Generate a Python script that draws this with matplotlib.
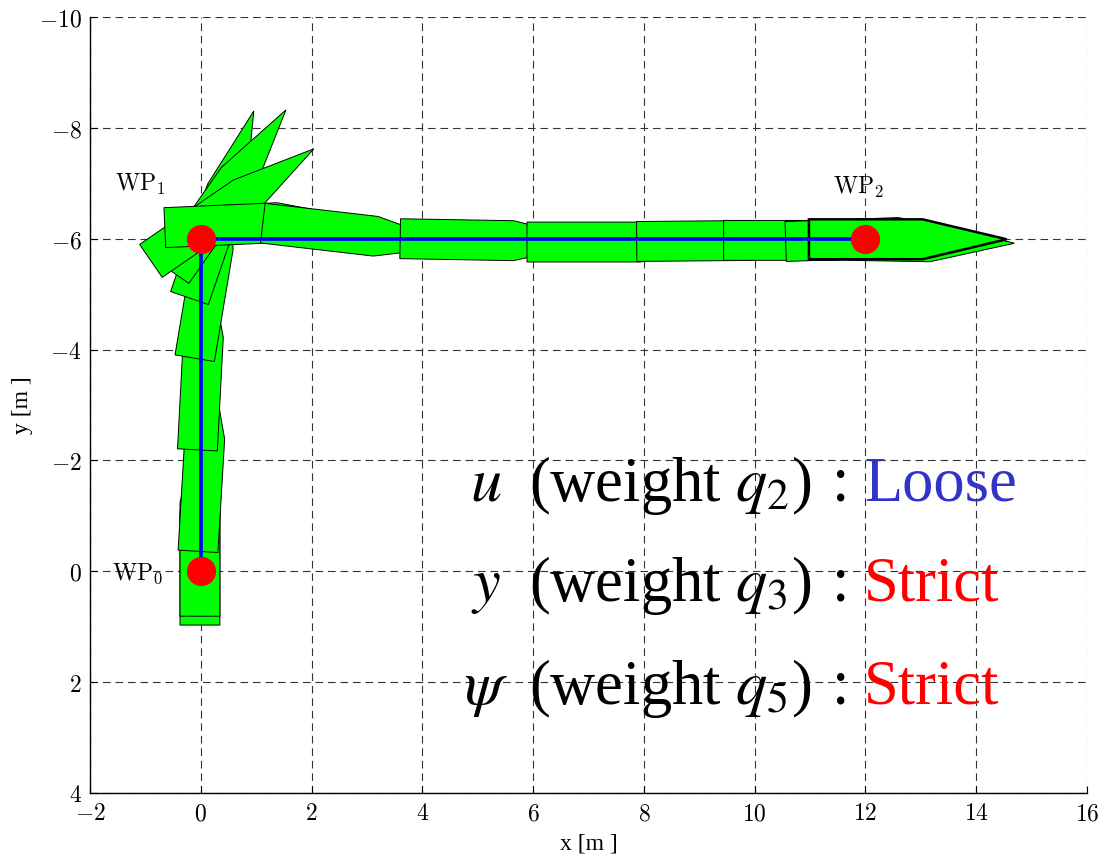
import numpy as np
import matplotlib
matplotlib.use("Agg")
import matplotlib.pyplot as plt
from matplotlib.patches import Polygon

plt.rcParams["mathtext.fontset"] = "cm"
plt.rcParams["lines.scale_dashes"] = False

# Waypoints of the reference path
wp_x = [0.0, 0.0, 12.0]
wp_y = [0.0, -6.0, -6.0]
wp_names = [r"$\mathrm{WP}_0$", r"$\mathrm{WP}_1$", r"$\mathrm{WP}_2$"]
wp_label_x = [-1.6, -1.55, 11.42]
wp_label_y = [0.15, -6.87, -6.8]

# Ship snapshots: hull centre [m] and heading [deg]
ship_x = [-0.015, -0.015, 0.056, 0.033, 0.185, 0.377, 0.514, 0.571, 1.134,
          2.893, 5.385, 7.675, 9.655, 11.225, 12.344, 12.905, 12.765]
ship_y = [-0.815, -0.975, -2.142, -3.973, -5.605, -6.618, -6.862, -6.611, -6.278,
          -6.075, -5.969, -5.94, -5.966, -5.97, -6.012, -5.949, -5.99]
ship_psi = [-90, -90, -86.6, -87, -80.5, -71, -55, -34.5, -2.5,
            6.6, 1.0, 0, -0.5, 0, -2, 1, 0]

# Hull outline in body frame (surge s, sway t)
hull_s = [-1.785, 0.265, 1.785, 0.265, -1.785]
hull_t = [-0.36, -0.36, 0.0, 0.36, 0.36]

# Weight settings
symbols = [r"$u$", r"$y$", r"$\psi$"]
weight_idx = ["2", "3", "5"]
levels = ["Loose", "Strict", "Strict"]
level_colors = ["#3333cc", "#ff0000", "#ff0000"]
text_y = [-1.27, 0.53, 2.39]

x_ticks = [-2, 0, 2, 4, 6, 8, 10, 12, 14, 16]
y_ticks = [-10, -8, -6, -4, -2, 0, 2, 4]

W, H = 1103, 861
fig = plt.figure(figsize=(W / 100, H / 100), dpi=100)
ax = fig.add_axes([90 / W, 1 - 793 / H, 997 / W, 776 / H])

ax.set_xlim(-2, 16)
ax.set_ylim(4, -10)

# Ship snapshots
n = len(ship_x)
for i, (cx, cy, psi) in enumerate(zip(ship_x, ship_y, ship_psi)):
    a = np.deg2rad(psi)
    s = np.array(hull_s)
    t = np.array(hull_t)
    px = cx + s * np.cos(a) - t * np.sin(a)
    py = cy + s * np.sin(a) + t * np.cos(a)
    last = i == n - 1
    ax.add_patch(Polygon(np.column_stack([px, py]), closed=True,
                         facecolor="#00ff00", edgecolor="black",
                         linewidth=1.8 if last else 0.7, zorder=3 + i * 0.01))

# Path and waypoints
ax.plot(wp_x, wp_y, color="blue", linewidth=2.6, zorder=4)
ax.plot(wp_x, wp_y, linestyle="none", marker="o", markersize=20,
        markerfacecolor="red", markeredgecolor="red", zorder=5)

for lx, ly, name in zip(wp_label_x, wp_label_y, wp_names):
    ax.text(lx, ly, name, fontsize=17, ha="left", va="baseline", zorder=6)

# Weight annotation
for sym, q, lvl, col, ty in zip(symbols, weight_idx, levels, level_colors, text_y):
    ax.text(5.15, ty, sym, fontsize=45, ha="center", va="baseline",
            math_fontfamily="stix", zorder=6)
    ax.text(5.92, ty, r"(weight $q_{\mathit{%s}}$)" % q, fontsize=45, ha="left",
            va="baseline", family="Liberation Serif", math_fontfamily="stix",
            zorder=6)
    ax.text(11.55, ty, ":", fontsize=45, ha="center", va="baseline",
            family="Liberation Serif", zorder=6)
    ax.text(11.97, ty, lvl, fontsize=45, ha="left", va="baseline",
            family="Liberation Serif", color=col, zorder=6)

# Axes styling
ax.set_xticks(x_ticks)
ax.set_yticks(y_ticks)
ax.set_xticklabels([r"$%d$" % v for v in x_ticks], fontsize=17)
ax.set_yticklabels([r"$%d$" % v for v in y_ticks], fontsize=17)
ax.tick_params(direction="in", length=5, width=0.8, pad=6, colors="black")
ax.grid(True, color="0.2", linestyle=(0, (5.5, 3.5)), linewidth=0.8)
ax.set_axisbelow(True)
for side in ("top", "right"):
    ax.spines[side].set_visible(False)
for side in ("left", "bottom"):
    ax.spines[side].set_linewidth(1.0)

ax.set_xlabel("x [m ]", fontsize=17, family="Liberation Serif", labelpad=6)
ax.set_ylabel("y [m ]", fontsize=17, family="Liberation Serif", labelpad=4)

fig.savefig("out.png", dpi=100)
